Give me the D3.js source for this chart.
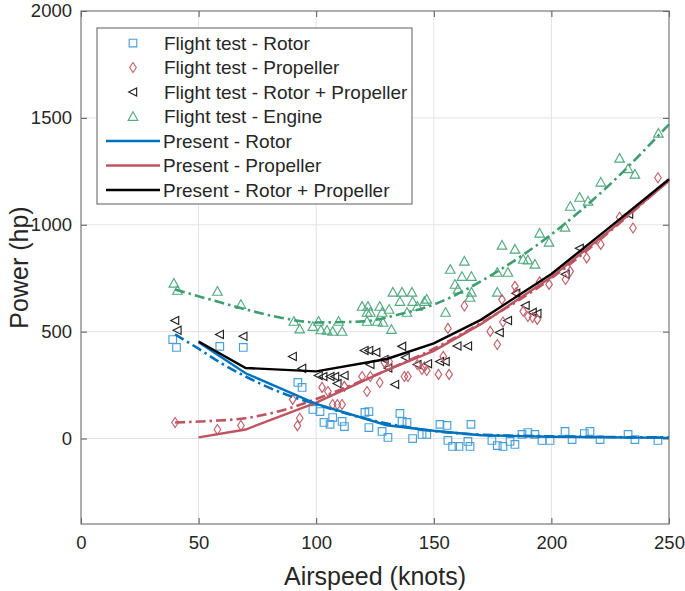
<!DOCTYPE html>
<html><head><meta charset="utf-8">
<script src="https://cdn.jsdelivr.net/npm/d3@7"></script>
<style>body{margin:0;background:#fff;} svg{display:block;font-family:"Liberation Sans",Arial,sans-serif;}</style>
</head><body>
<svg id="c" width="685" height="591"></svg>
<script>
// ---- data ----
const xTicks = [0, 50, 100, 150, 200, 250];
const yTicks = [0, 500, 1000, 1500, 2000];

const testRotor = [[39,463],[40.6,426],[59,431],[69,426],[92.2,262],[94,239],[98.6,136],[101.6,126],[103.3,75],[105.9,66],[107,98],[111,80],[112,56],[120.7,122],[122.4,126],[122.4,51],[128,33],[130.5,5],[135.6,117],[136.5,80],[138.6,75],[141,0],[145,19],[147,19],[152.6,66],[155.6,61],[156,-9],[158,-37],[160.7,-37],[164.5,-14],[165.4,-37],[165.8,66],[174.7,-9],[177,-33],[179.4,-37],[182.4,-14],[184.5,-28],[187.5,19],[190,28],[193,19],[196,-9],[199.4,-9],[205.8,33],[208.8,-5],[214,23],[216.4,33],[220.7,-5],[232.6,19],[235.5,-5],[245.3,-9]];
const testProp = [[40,75],[58,42],[68,61],[90,183],[92,60],[93,95],[102.5,239],[105,220],[107,159],[109,159],[111,159],[112,244],[119.5,290],[121.6,220],[123,290],[127,262],[129,356],[131,360],[137.5,290],[139,290],[143,346],[145,323],[146,335],[147,318],[152,300],[154,384],[156,515],[156.5,300],[163,620],[174,501],[177,440],[179,650],[179.4,545],[184.5,712],[185,683],[188,595],[190,571],[192,566],[194,557],[195,733],[199,721],[206,744],[208,782],[215,845],[221,908],[229,1035],[234.7,985],[245.3,1220]];
const testTotal = [[40,552],[41,506],[59,487],[69,478],[90,384],[94,328],[101,295],[103,290],[106,290],[108,290],[109,257],[112,295],[120.5,412],[122.5,412],[125.5,403],[123,346],[129,370],[130.6,330],[133.5,253],[136.5,431],[138,379],[143,346],[147.5,350],[152.6,360],[155,360],[160,433],[164.5,433],[178,496],[181.5,552],[185,679],[189,622],[192,590],[194,585],[206,768],[212,890],[233,1049]];
const testEngine = [[39.5,726],[41,693],[58,688],[68,627],[90.5,548],[93,512],[98.6,524],[101,548],[102,508],[104.6,506],[107,501],[109.5,548],[111,501],[119.5,618],[121.6,590],[122,618],[123,590],[121.6,548],[126,548],[127,618],[128,590],[128.4,543],[131,604],[132,510],[132.6,684],[135.6,641],[136.5,684],[138.6,590],[140.7,684],[141,641],[143,618],[146,641],[147,651],[155,590],[157,791],[159,721],[160.3,698],[162,758],[163,829],[165.4,660],[166,758],[166,684],[177,684],[177,777],[179,904],[181.5,777],[184.5,885],[188,838],[190,835],[193,815],[195,960],[199,918],[205.8,988],[208,1086],[212,1128],[215.6,1110],[221,1199],[229,1311],[232.6,1262],[235.5,1236],[245.5,1428]];

const presRotor = [[50,450],[70,305],[100,162],[130,62],[150,36],[170,15],[200,8],[250,3]];
const presProp  = [[50,5],[70,42],[100,168],[130,320],[150,410],[170,535],[200,755],[225,975],[250,1205]];
const presTotal = [[50,454],[70,330],[100,314],[130,372],[150,445],[170,555],[200,770],[225,990],[250,1213]];

const fitRotor  = [[40,487],[50,420],[60,350],[70,290],[85,215],[100,160],[115,110],[130,70],[150,35],[170,18],[200,10],[250,5]];
const fitProp   = [[40,75],[55,82],[70,95],[85,130],[100,185],[130,320],[150,420],[170,540],[200,750],[225,970],[250,1210]];
const fitEngine = [[40,697],[55,650],[70,604],[85,565],[100,543],[120,548],[135,580],[150,627],[175,768],[200,955],[225,1190],[250,1470]];

const legendLabels = ["Flight test - Rotor","Flight test - Propeller","Flight test - Rotor + Propeller","Flight test - Engine","Present - Rotor","Present - Propeller","Present - Rotor + Propeller"];

// ---- chart ----
const C = {blue:"#0072BD", blueM:"#4A9FD9", red:"#BD5460", redM:"#C4606B", black:"#000000", green:"#3E9E70", greenM:"#52AA80"};
const L = 81, T = 11, W = 588, H = 513;
const svg = d3.select("#c");
const x = d3.scaleLinear().domain([0,250]).range([L, L+W]);
const y = d3.scaleLinear().domain([-400,2000]).range([T+H, T]);

// grid
const g = svg.append("g");
g.selectAll(".gx").data(xTicks.slice(1,-1)).join("line")
  .attr("x1",d=>x(d)).attr("x2",d=>x(d)).attr("y1",T).attr("y2",T+H)
  .attr("stroke","#e3e3e3").attr("stroke-width",1);
g.selectAll(".gy").data(yTicks.slice(0,-1)).join("line")
  .attr("y1",d=>y(d)).attr("y2",d=>y(d)).attr("x1",L).attr("x2",L+W)
  .attr("stroke","#e3e3e3").attr("stroke-width",1);

// axes
const axB = d3.axisBottom(x).tickValues(xTicks).tickSize(-6).tickPadding(12).tickFormat(d3.format("d"));
const axL = d3.axisLeft(y).tickValues(yTicks).tickSize(-6).tickPadding(9).tickFormat(d3.format("d"));
const axT = d3.axisTop(x).tickValues(xTicks).tickSize(-6).tickFormat("");
const axR = d3.axisRight(y).tickValues(yTicks).tickSize(-6).tickFormat("");
function styleAx(sel){
  sel.select(".domain").remove();
  sel.selectAll("line").attr("stroke","#555");
  sel.selectAll("text").attr("fill","#262626").style("font-size","18.5px");
}
svg.append("g").attr("transform",`translate(0,${T+H})`).call(axB).call(styleAx);
svg.append("g").attr("transform",`translate(${L},0)`).call(axL).call(styleAx);
svg.append("g").attr("transform",`translate(0,${T})`).call(axT).call(styleAx);
svg.append("g").attr("transform",`translate(${L+W},0)`).call(axR).call(styleAx);
svg.append("rect").attr("x",L).attr("y",T).attr("width",W).attr("height",H)
  .attr("fill","none").attr("stroke","#777").attr("stroke-width",1.2);

// titles
svg.append("text").attr("x",L+W/2).attr("y",585).attr("text-anchor","middle")
  .attr("fill","#262626").style("font-size","25px").text("Airspeed (knots)");
svg.append("text").attr("transform",`translate(28,${T+H/2}) rotate(-90)`).attr("text-anchor","middle")
  .attr("fill","#262626").style("font-size","25px").text("Power (hp)");

const plot = svg.append("g");
const line = d3.line().x(d=>x(d[0])).y(d=>y(d[1]));
const curve = d3.line().x(d=>x(d[0])).y(d=>y(d[1])).curve(d3.curveMonotoneX);
const DD = "10,4,2.5,4";

// marker shapes
function sq(s){ return `M${-s},${-s}h${2*s}v${2*s}h${-2*s}Z`; }
function dia(w,h){ return `M0,${-h}L${w},0L0,${h}L${-w},0Z`; }
function triL(s){ return `M${-s},0L${s*0.85},${-s*0.95}L${s*0.85},${s*0.95}Z`; }
function triU(s){ return `M0,${-s}L${s},${s*0.8}L${-s},${s*0.8}Z`; }
const mk = {
  rotor: {path: sq(3.8), color: C.blueM},
  prop:  {path: dia(3.3,5), color: C.redM},
  total: {path: triL(4.3), color: "#222"},
  engine:{path: triU(4.8), color: C.greenM}
};
function drawPts(data, m){
  plot.append("g").selectAll("path").data(data).join("path")
    .attr("transform",d=>`translate(${x(d[0])},${y(d[1])})`)
    .attr("d",m.path).attr("fill","none").attr("stroke",m.color).attr("stroke-width",1.15);
}
drawPts(testEngine, mk.engine);
drawPts(testTotal, mk.total);
drawPts(testProp, mk.prop);
drawPts(testRotor, mk.rotor);

// fit lines (dash-dot)
plot.append("path").datum(fitEngine).attr("d",curve).attr("fill","none").attr("stroke",C.green).attr("stroke-width",2.6).attr("stroke-dasharray",DD);
plot.append("path").datum(fitProp).attr("d",curve).attr("fill","none").attr("stroke",C.red).attr("stroke-width",2.6).attr("stroke-dasharray",DD);
plot.append("path").datum(fitRotor).attr("d",curve).attr("fill","none").attr("stroke",C.blue).attr("stroke-width",2.6).attr("stroke-dasharray",DD);
// present lines
plot.append("path").datum(presProp).attr("d",line).attr("fill","none").attr("stroke",C.red).attr("stroke-width",2.4);
plot.append("path").datum(presRotor).attr("d",line).attr("fill","none").attr("stroke",C.blue).attr("stroke-width",2.4);
plot.append("path").datum(presTotal).attr("d",line).attr("fill","none").attr("stroke",C.black).attr("stroke-width",2.4);

// legend
const lg = svg.append("g");
lg.append("rect").attr("x",97).attr("y",28).attr("width",315).attr("height",176)
  .attr("fill","#fff").attr("stroke","#777").attr("stroke-width",1.2);
const rowY = i => 43 + i*24.5;
const legMk = [mk.rotor, mk.prop, mk.total, mk.engine];
legMk.forEach((m,i)=>{
  lg.append("path").attr("transform",`translate(133,${rowY(i)})`).attr("d",m.path)
    .attr("fill","none").attr("stroke",m.color).attr("stroke-width",1.15);
});
[C.blue, C.red, C.black].forEach((c,i)=>{
  lg.append("line").attr("x1",106).attr("x2",160).attr("y1",rowY(i+4)).attr("y2",rowY(i+4))
    .attr("stroke",c).attr("stroke-width",2.4);
});
lg.selectAll("text").data(legendLabels).join("text")
  .attr("x",(d,i)=> i<4 ? 164 : 163).attr("y",(d,i)=>rowY(i)+6.5)
  .attr("fill","#262626").style("font-size","19px").text(d=>d);
</script>
</body></html>
